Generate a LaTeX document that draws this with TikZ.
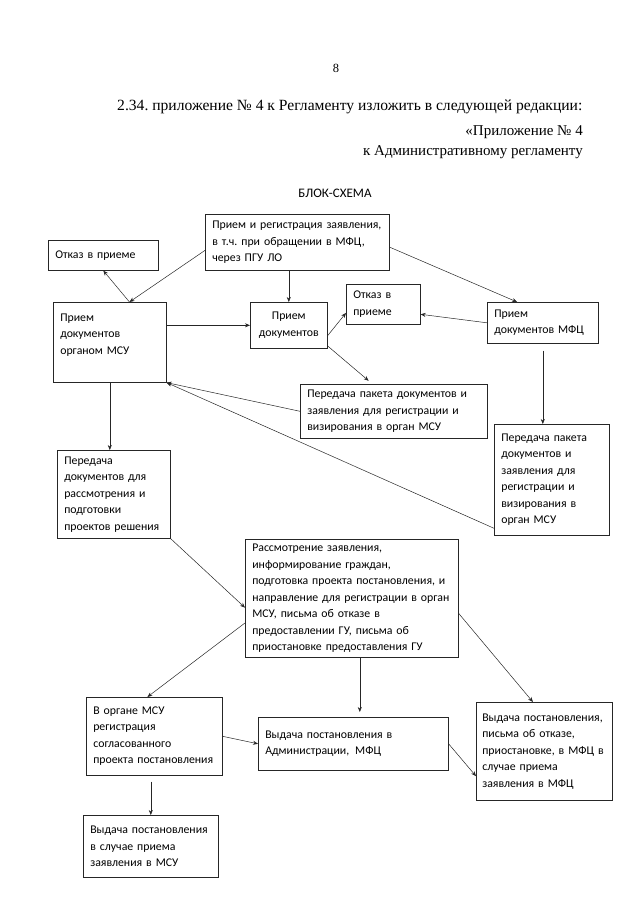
\documentclass[tikz,border=0pt]{standalone}
\usepackage{fontspec}
\setmainfont{Liberation Serif}
\newfontfamily\boxfont{Carlito}
\usetikzlibrary{arrows.meta}
\frenchspacing

\tikzset{
  blk/.style={draw=black!85, line width=0.6pt, anchor=north west, align=left,
    inner xsep=7pt, inner ysep=0pt, font=\boxfont\fontsize{11.8}{16.5}\selectfont},
  arr/.style={draw=black!85, line width=0.5pt, -{Stealth[length=5pt,width=4pt]}},
  hdr/.style={inner sep=0pt, font=\fontsize{15}{18}\selectfont}
}

\begin{document}
\begin{tikzpicture}[x=1pt,y=-1pt]
	\useasboundingbox (0,0) rectangle (640,905);
	% page head
	\node[inner sep=0pt, font=\fontsize{12.5}{15}\selectfont] (pgno) at (336,68) {8};
	\node[hdr, anchor=west, font=\fontsize{15.6}{18}\selectfont] (para) at (117,107)
		{2.34. приложение № 4 к Регламенту изложить в следующей редакции:};
	\node[hdr, anchor=east] (app) at (583,132) {«Приложение № 4};
	\node[hdr, anchor=east] (appreg) at (583,152) {к Административному регламенту};
	\node[inner sep=0pt, font=\boxfont\fontsize{13}{15}\selectfont] (title) at (335,193) {БЛОК-СХЕМА};
	%
	% boxes
	\node[blk, text width=170pt, minimum height=56pt] (reg) at (205,214)
		{Прием и регистрация заявления,\\ в т.ч. при обращении в МФЦ,\\ через ПГУ ЛО};
	\node[blk, text width=96pt, minimum height=30pt] (otk1) at (48,240) {Отказ в приеме};
	\node[blk, text width=99pt, minimum height=80pt] (msu) at (53,302)
		{Прием\\ документов\\ органом МСУ\\ ~};
	\node[blk, align=center, inner xsep=5pt, text width=67pt, minimum height=46pt] (pd) at (250,302)
		{Прием\\ документов};
	\node[blk, text width=60pt, minimum height=40pt] (otk2) at (346,284) {Отказ в\\ приеме};
	\node[blk, text width=97pt, minimum height=41pt] (mfc) at (487,302)
		{Прием\\ документов МФЦ};
	\node[blk, text width=173pt, minimum height=54pt] (per1) at (300,384)
		{Передача пакета документов и\\ заявления для регистрации и\\ визирования в орган МСУ};
	\node[blk, text width=101pt, minimum height=111pt] (per3) at (494,424)
		{Передача пакета\\ документов и\\ заявления для\\ регистрации и\\ визирования в\\ орган МСУ};
	\node[blk, text width=99pt, minimum height=88pt] (per2) at (57,450)
		{Передача\\ документов для\\ рассмотрения и\\ подготовки\\ проектов решения};
	\node[blk, text width=199pt, minimum height=118pt] (rass) at (245,539)
		{Рассмотрение заявления,\\ информирование граждан,\\ подготовка проекта постановления, и\\
		 направление для регистрации в орган\\ МСУ, письма об отказе в\\ предоставлении ГУ, письма об\\
		 приостановке предоставления ГУ};
	\node[blk, text width=122pt, minimum height=78pt] (msureg) at (86,697)
		{В органе МСУ\\ регистрация\\ согласованного\\ проекта постановления};
	\node[blk, text width=176pt, minimum height=53pt] (vyd1) at (258,717)
		{Выдача постановления в\\ Администрации,\enspace МФЦ};
	\node[blk, inner xsep=6pt, text width=124pt, minimum height=98pt] (vyd2) at (476,702)
		{Выдача постановления,\\ письма об отказе,\\ приостановке, в МФЦ в\\ случае приема\\ заявления в МФЦ};
	\node[blk, text width=121pt, minimum height=62pt] (vyd3) at (83,815)
		{Выдача постановления\\ в случае приема\\ заявления в МСУ};
	%
	% connectors
	\draw[arr] (reg.185) -- (msu.64);
	\draw[arr] (msu.64) -- (otk1.south);
	\draw[arr] (pd.north |- reg.south) -- (pd.north);
	\draw[arr] (reg.-3) -- (mfc.141);
	\draw[arr] (msu.east |- pd.west) -- (pd.west);
	\draw[arr] (pd.-15) -- (otk2.193);
	\draw[arr, shorten >=5pt] (pd.-28) -- (per1.128);
	\draw[arr] (mfc.west) -- (otk2.-15);
	\draw[arr] (per1.west) -- (msu.south east);
	\draw[arr] (per3.220) -- (msu.south east);
	\draw[arr, shorten <=7pt] (mfc.south) -- (mfc.south |- per3.north);
	\draw[arr] (msu.south) -- (msu.south |- per2.north);
	\draw[arr] (per2.south east) -- (rass.185);
	\draw[arr] (rass.193) -- (msureg.100);
	\draw[arr, shorten >=5pt] ([xshift=8pt]rass.south) -- ([xshift=8pt]rass.south |- vyd1.north);
	\draw[arr] (rass.-8) -- (vyd2.103);
	\draw[arr] (msureg.east) -- (vyd1.west);
	\draw[arr] (vyd1.east) -- (vyd2.200);
	\draw[arr, shorten <=6pt] (vyd3.north |- msureg.south) -- (vyd3.north);
\end{tikzpicture}
\end{document}
